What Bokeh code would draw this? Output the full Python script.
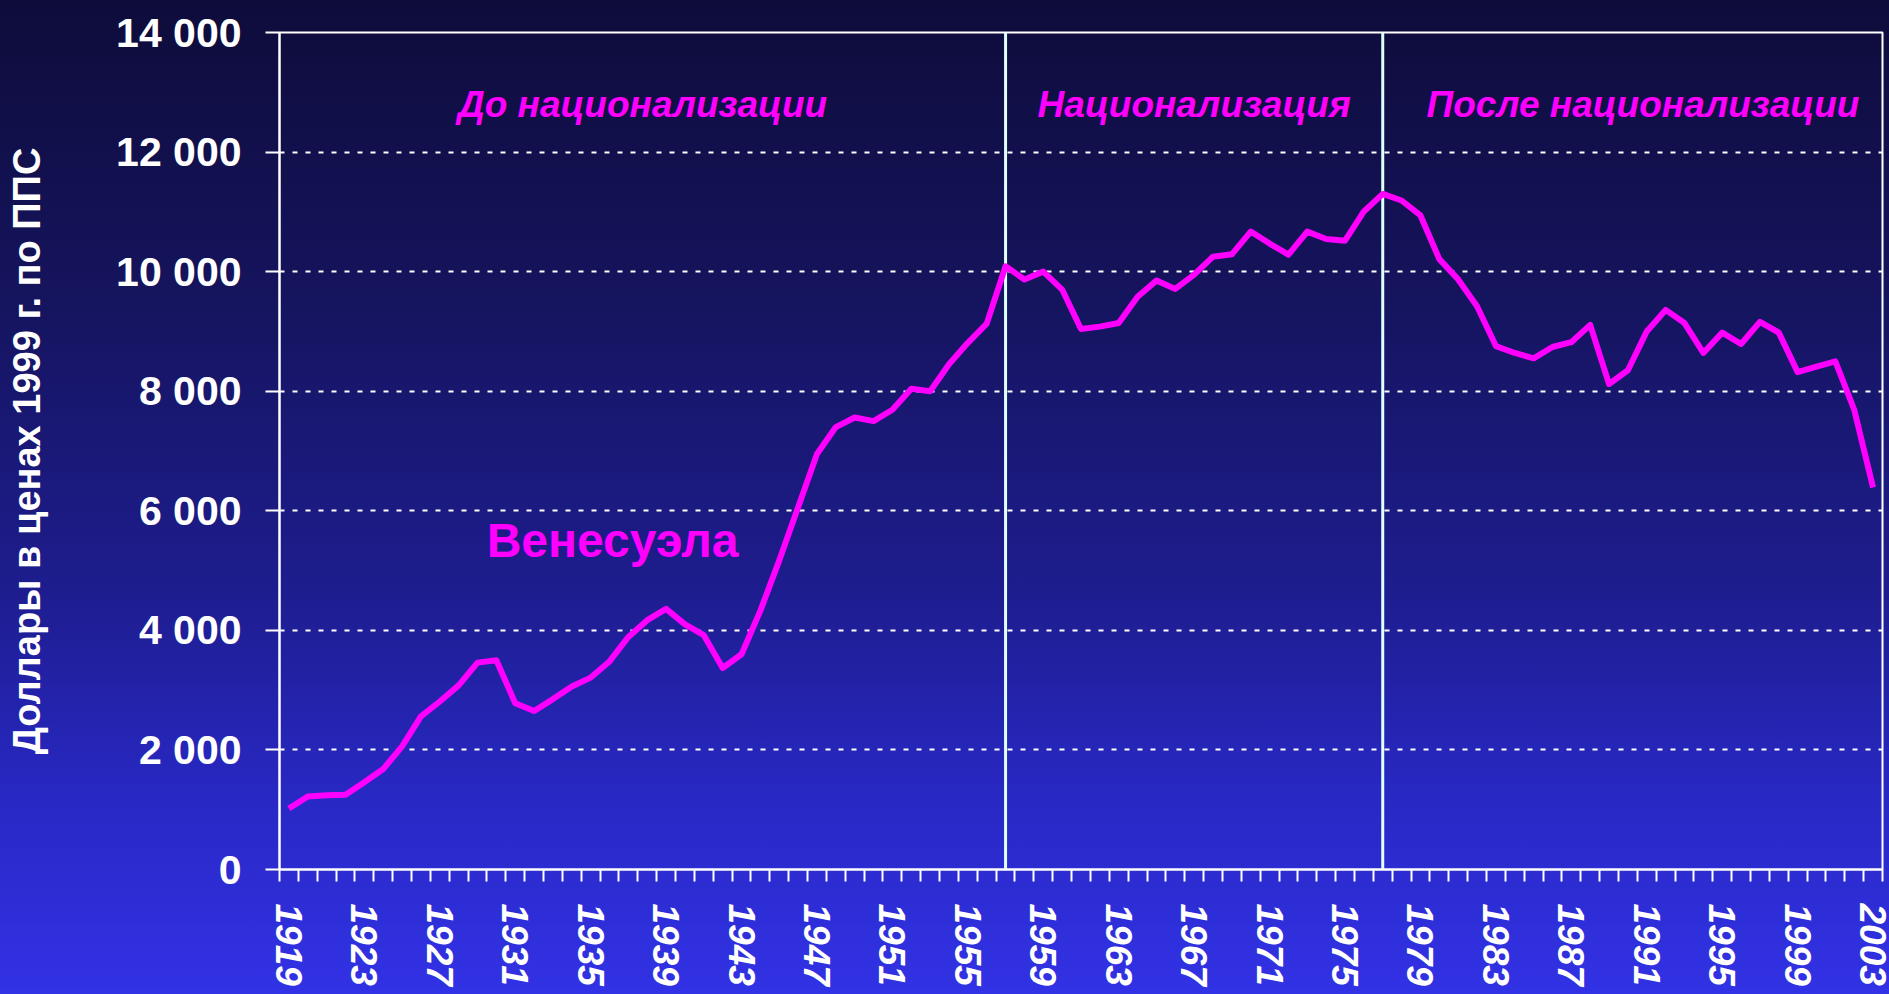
from bokeh.plotting import figure
from bokeh.models import FixedTicker, Label, Range1d
from bokeh.embed import file_html
from bokeh.resources import INLINE

# ---- data -------------------------------------------------------------
years = list(range(1919, 2004))
gdp_per_capita = [
    1020, 1220, 1240, 1250, 1460, 1680, 2060, 2560, 2810, 3080,   # 1919-1928
    3460, 3500, 2780, 2650, 2850, 3060, 3210, 3480, 3890, 4170,   # 1929-1938
    4360, 4100, 3920, 3370, 3600, 4330, 5170, 6060, 6950, 7400,   # 1939-1948
    7560, 7500, 7690, 8040, 8000, 8450, 8810, 9130, 10090, 9870,  # 1949-1958
    10000, 9700, 9040, 9080, 9140, 9580, 9850, 9710, 9950, 10250, # 1959-1968
    10290, 10670, 10470, 10285, 10670, 10546, 10517, 11007, 11300, 11190,  # 1969-1978
    10940, 10210, 9870, 9420, 8755, 8640, 8550, 8740, 8820, 9110,  # 1979-1988
    8120, 8350, 9000, 9360, 9140, 8640, 8980, 8790, 9160, 8980,   # 1989-1998
    8320, 8410, 8500, 7690, 6390,                                 # 1999-2003
]
y_ticks = [0, 2000, 4000, 6000, 8000, 10000, 12000, 14000]
y_tick_labels = ["0", "2 000", "4 000", "6 000", "8 000", "10 000", "12 000", "14 000"]
x_label_years = list(range(1919, 2004, 4))
era_boundaries = [1957, 1977]
era_titles = ["До национализации", "Национализация", "После национализации"]
era_title_years = [1937.75, 1967.0, 1990.8]
series_name = "Венесуэла"
y_title = "Доллары в ценах 1999 г. по ППС"

FONT = "Liberation Sans"
MAGENTA = "#FF00FF"

p = figure(
    width=1889, height=994,
    output_backend="svg", toolbar_location=None,
    x_range=Range1d(years[0] - 0.5, years[-1] + 0.5),
    y_range=Range1d(y_ticks[0], y_ticks[-1]),
    min_border_left=279, min_border_right=7,
    min_border_top=32, min_border_bottom=125,
)
p.background_fill_color = None
p.border_fill_color = None
p.styles = {"background": "linear-gradient(to bottom, #0e0c3a 0%, #15145e 30%, #1e1d90 60%, #2828c4 80%, #3232e6 100%)"}
p.outline_line_color = "white"
p.outline_line_width = 2

# grid
p.xgrid.grid_line_color = None
p.ygrid.grid_line_color = "white"
p.ygrid.grid_line_width = 2
p.ygrid.grid_line_dash = "5 8"

# y axis
ya = p.yaxis[0]
ya.ticker = FixedTicker(ticks=y_ticks)
ya.major_label_overrides = {t: lab for t, lab in zip(y_ticks, y_tick_labels)}
ya.axis_line_color = "white"
ya.axis_line_width = 2
ya.major_tick_line_color = "white"
ya.major_tick_line_width = 2
ya.major_tick_out = 14
ya.major_tick_in = 0
ya.minor_tick_line_color = None
ya.major_label_text_color = "white"
ya.major_label_text_font = FONT
ya.major_label_text_font_style = "bold"
ya.major_label_text_font_size = "41px"
ya.major_label_standoff = 24
ya.axis_label = y_title
ya.axis_label_text_color = "white"
ya.axis_label_text_font = FONT
ya.axis_label_text_font_style = "bold"
ya.axis_label_text_font_size = "38px"
ya.axis_label_standoff = 65

# x axis: labels at year centres, ticks at year boundaries
xa = p.xaxis[0]
xa.ticker = FixedTicker(ticks=x_label_years,
                        minor_ticks=[y - 0.5 for y in years] + [years[-1] + 0.5])
xa.major_label_overrides = {y: str(y) for y in x_label_years}
xa.axis_line_color = "white"
xa.axis_line_width = 2
xa.major_tick_line_color = None
xa.major_tick_out = 12
xa.major_tick_in = 0
xa.minor_tick_line_color = "white"
xa.minor_tick_line_width = 2
xa.minor_tick_out = 12
xa.minor_tick_in = 0
xa.major_label_orientation = "vertical"
xa.major_label_text_color = "white"
xa.major_label_text_font = FONT
xa.major_label_text_font_style = "bold italic"
xa.major_label_text_font_size = "37px"
xa.major_label_standoff = 22

# era boundaries
p.segment(x0=era_boundaries, x1=era_boundaries,
          y0=[y_ticks[0]] * len(era_boundaries), y1=[y_ticks[-1]] * len(era_boundaries),
          line_color="#E0FFFF", line_width=3)

# the series
p.line(years, gdp_per_capita, line_color=MAGENTA, line_width=6, line_join="round")

# era titles
for title, xpos in zip(era_titles, era_title_years):
    p.add_layout(Label(x=xpos, y=12790, text=title, text_align="center",
                       text_baseline="middle", text_color=MAGENTA,
                       text_font=FONT, text_font_style="bold italic",
                       text_font_size="37px"))

p.add_layout(Label(x=1936.16, y=5500, text=series_name, text_align="center",
                   text_baseline="middle", text_color=MAGENTA,
                   text_font=FONT, text_font_style="bold",
                   text_font_size="48px"))

open("out.html", "w").write(file_html(p, INLINE))
